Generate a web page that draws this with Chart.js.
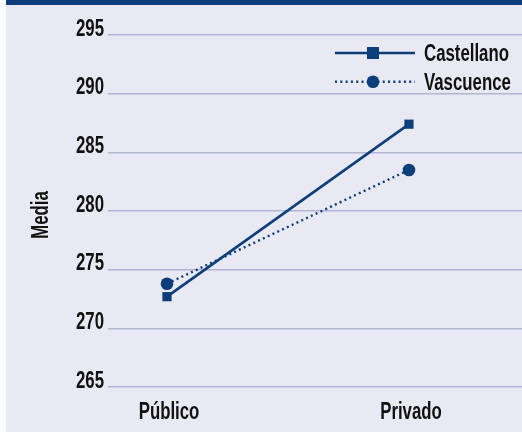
<!DOCTYPE html>
<html><head><meta charset="utf-8">
<script src="https://cdn.jsdelivr.net/npm/chart.js@4"></script>
<style>html,body{margin:0;padding:0;background:#fff}#c{display:block}</style>
</head><body>
<canvas id="c" width="522" height="433"></canvas>
<script>
const categories = ['Público', 'Privado'];
const seriesNames = ['Castellano', 'Vascuence'];
const castellano = [272.7, 287.4];
const vascuence = [273.8, 283.5];
const yTicks = [265, 270, 275, 280, 285, 290, 295];
const yTitle = 'Media';

const NAVY = '#0c3f7a';
const TEXT = '#111111';
const FONT = "bold 23px 'Liberation Sans', Arial, sans-serif";
const SX = 0.73; // horizontal condensing of text

function sText(ctx, text, x, y, align, baseline, rot) {
  ctx.save();
  ctx.translate(x, y);
  if (rot) ctx.rotate(rot);
  ctx.scale(SX, 1);
  ctx.font = FONT;
  ctx.fillStyle = TEXT;
  ctx.textAlign = align;
  ctx.textBaseline = baseline;
  ctx.fillText(text, 0, 0);
  ctx.restore();
}

const bgPlugin = {
  id: 'bg',
  beforeDraw(chart) {
    const ctx = chart.ctx;
    ctx.save();
    ctx.fillStyle = '#ffffff';
    ctx.fillRect(0, 0, chart.width, chart.height);
    ctx.fillStyle = '#e9e9f3';
    ctx.fillRect(6, 0, chart.width - 6, 432);
    ctx.fillStyle = NAVY;
    ctx.fillRect(6, 0, chart.width - 6, 5);
    ctx.restore();
  }
};

const labelsPlugin = {
  id: 'condensedLabels',
  afterDraw(chart) {
    const ctx = chart.ctx;
    const xs = chart.scales.x, ys = chart.scales.y;
    // y tick labels: baseline on the gridline
    ys.ticks.forEach(t => {
      sText(ctx, String(t.value), 104, ys.getPixelForValue(t.value) + 0.5, 'right', 'alphabetic');
    });
    // x tick labels
    xs.ticks.forEach(t => {
      sText(ctx, categories[t.value], xs.getPixelForValue(t.value) + 2, 419, 'center', 'alphabetic');
    });
    // y title
    sText(ctx, yTitle, 48, 215, 'center', 'alphabetic', -Math.PI / 2);
    // legend
    chart.data.datasets.forEach((ds, i) => {
      const y = 53 + i * 28.7;
      ctx.save();
      ctx.strokeStyle = ds.borderColor;
      ctx.lineWidth = ds.borderWidth;
      ctx.setLineDash(ds.borderDash || []);
      ctx.beginPath();
      ctx.moveTo(335, y);
      ctx.lineTo(415, y);
      ctx.stroke();
      ctx.setLineDash([]);
      ctx.fillStyle = ds.pointBackgroundColor;
      if (ds.pointStyle === 'rect') {
        ctx.fillRect(373 - 6, y - 6, 12, 12);
      } else {
        ctx.beginPath();
        ctx.arc(373, y, 6.3, 0, Math.PI * 2);
        ctx.fill();
      }
      ctx.restore();
      sText(ctx, ds.label, 424, y + 8.3, 'left', 'alphabetic');
    });
  }
};

new Chart(document.getElementById('c'), {
  type: 'line',
  data: {
    datasets: [
      {
        label: seriesNames[0],
        data: castellano.map((v, i) => ({ x: i, y: v })),
        borderColor: NAVY, borderWidth: 2.6,
        pointStyle: 'rect', pointRadius: 6.5, pointBackgroundColor: NAVY, pointBorderWidth: 0,
        tension: 0
      },
      {
        label: seriesNames[1],
        data: vascuence.map((v, i) => ({ x: i, y: v })),
        borderColor: NAVY, borderWidth: 2.4, borderDash: [2, 3.3],
        pointStyle: 'circle', pointRadius: 6.3, pointBackgroundColor: NAVY, pointBorderWidth: 0,
        tension: 0
      }
    ]
  },
  options: {
    responsive: false,
    animation: false,
    layout: { autoPadding: false, padding: { top: 35, left: 0, right: 0, bottom: 0 } },
    plugins: { legend: { display: false }, tooltip: { enabled: false } },
    scales: {
      x: {
        type: 'linear',
        min: -0.2438, max: 1.467,
        afterBuildTicks(scale) { scale.ticks = categories.map((c, i) => ({ value: i })); },
        afterFit(scale) { scale.height = 46; },
        grid: { display: false },
        border: { display: false },
        ticks: { display: false }
      },
      y: {
        min: 265, max: 295,
        afterBuildTicks(scale) { scale.ticks = yTicks.map(v => ({ value: v })); },
        afterFit(scale) { scale.width = 108; },
        grid: { color: '#b3b6d3', lineWidth: 1.6, drawTicks: false },
        border: { display: false },
        ticks: { display: false }
      }
    }
  },
  plugins: [bgPlugin, labelsPlugin]
});
</script>
</body></html>
